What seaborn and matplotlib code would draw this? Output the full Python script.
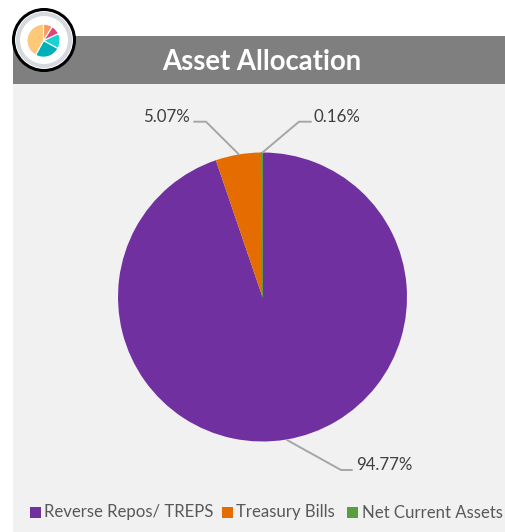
#Recreating the Asset Allocation pie chart with its header band and icon.

#Importing libraries.
import matplotlib
matplotlib.use('Agg')
import matplotlib.pyplot as plt
from matplotlib.patches import Rectangle, Circle
import seaborn as sns

#Chart values.
categories = ['Reverse Repos/ TREPS', 'Treasury Bills', 'Net Current Assets']
values = [94.77, 5.07, 0.16]
value_labels = ['94.77%', '5.07%', '0.16%']
slice_colors = ['#7030A0', '#E46C00', '#5B9E41']

#Values for the small icon pie.
icon_values = [9, 9, 15, 25, 42]
icon_colors = ['#F79A63', '#D9487D', '#17D3D6', '#00B0B9', '#FDC878']

sns.set_theme(style='white')
plt.rcParams['font.family'] = ['Lato', 'DejaVu Sans']

W, H = 505, 532
fig = plt.figure(figsize=(W / 100, H / 100), dpi=100, facecolor='white')

#Background axes in pixel coordinates.
bg = fig.add_axes([0, 0, 1, 1])
bg.set_xlim(0, W)
bg.set_ylim(H, 0)
bg.axis('off')
bg.add_patch(Rectangle((13, 84), W - 13, H - 84, color='#F1F1F1', lw=0))
bg.add_patch(Rectangle((13, 36), W - 13, 48, color='#7F7F7F', lw=0))
bg.text(261.5, 62, 'Asset Allocation', color='white', fontsize=19.8, fontweight='bold',
        ha='center', va='center')

#Main pie.
cx, cy, r = 262.5, 297, 144.5
ax = fig.add_axes([(cx - r) / W, 1 - (cy + r) / H, 2 * r / W, 2 * r / H])
wedges, _ = ax.pie(values, colors=sns.color_palette(slice_colors), startangle=90, counterclock=False,
                   radius=1, wedgeprops={'linewidth': 0})
#Thin slice needs an outline to stay visible.
wedges[2].set_edgecolor(slice_colors[2])
wedges[2].set_linewidth(0.6)
ax.set_xlim(-1, 1)
ax.set_ylim(-1, 1)
ax.patch.set_alpha(0)

#Overlay for leader lines, labels and legend.
top = fig.add_axes([0, 0, 1, 1])
top.set_xlim(0, W)
top.set_ylim(H, 0)
top.axis('off')
top.patch.set_alpha(0)

leaders = [
    ([287, 341, 352], [440, 470, 470], 356.5, 465, 'left', value_labels[0]),
    ([238.5, 206, 194], [154, 121.7, 121.7], 189.5, 117, 'right', value_labels[1]),
    ([262.5, 299, 311], [152.5, 121.7, 121.7], 314, 117, 'left', value_labels[2]),
]
for xs, ys, tx, ty, ha, label in leaders:
    top.plot(xs, ys, color='#A6A6A6', lw=1.4, solid_joinstyle='miter')
    top.text(tx, ty, label, color='#404040', fontsize=12.2, ha=ha, va='center')

#Legend.
legend_x = [30, 222, 347]
for x, name, color in zip(legend_x, categories, slice_colors):
    top.add_patch(Rectangle((x, 507), 11, 11, color=color, lw=0))
    top.text(x + 14.5, 512.5, name, color='#595959', fontsize=12.1, ha='left', va='center')

#Icon badge.
top.add_patch(Circle((44, 40), 30.5, facecolor='white', edgecolor='black', lw=2.2))
top.add_patch(Circle((44, 40), 26, facecolor='white', edgecolor='#D5D8DC', lw=2.9))

ix, iy, ir = 43.5, 40.7, 16.5
icon = fig.add_axes([(ix - ir) / W, 1 - (iy + ir) / H, 2 * ir / W, 2 * ir / H])
icon.pie(icon_values, colors=sns.color_palette(icon_colors), startangle=90, counterclock=False,
         radius=1, wedgeprops={'linewidth': 0.8, 'edgecolor': 'white'})
icon.set_xlim(-1, 1)
icon.set_ylim(-1, 1)
icon.patch.set_alpha(0)

fig.savefig('out.png', dpi=100, facecolor='white')
